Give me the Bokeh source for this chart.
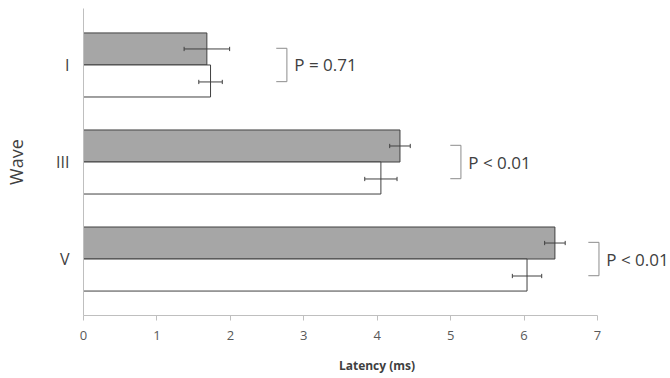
from bokeh.plotting import figure
from bokeh.models import Range1d, FixedTicker
from bokeh.core.properties import value
from bokeh.embed import file_html
from bokeh.resources import INLINE

# ---- data ----
waves = ["I", "III", "V"]
wave_pos = [2, 1, 0]
gray_mean = [1.68, 4.31, 6.42]
gray_err = [0.31, 0.14, 0.14]
white_mean = [1.73, 4.05, 6.04]
white_err = [0.16, 0.22, 0.20]
p_labels = ["P = 0.71", "P < 0.01", "P < 0.01"]
bracket_x = [2.77, 5.14, 7.02]
x_ticks = [0, 1, 2, 3, 4, 5, 6, 7]

FONT = "Open Sans"
TXT = "#404040"
BAR_H = 0.33
OFF = BAR_H / 2

p = figure(width=670, height=378, output_backend="svg", toolbar_location=None,
           x_range=Range1d(0, 7.994), y_range=Range1d(-0.582, 2.582),
           min_border_left=83, min_border_right=0, min_border_top=8, min_border_bottom=63)
p.outline_line_color = None
p.xgrid.visible = False
p.ygrid.visible = False
p.background_fill_color = "white"

# bars
gray_y = [y + OFF for y in wave_pos]
white_y = [y - OFF for y in wave_pos]
p.hbar(y=gray_y, height=BAR_H, left=0, right=gray_mean,
       fill_color="#a6a6a6", line_color="#404040", line_width=1)
p.hbar(y=white_y, height=BAR_H, left=0, right=white_mean,
       fill_color="white", line_color="#404040", line_width=1)

# error bars
CAP = 0.022
def errbars(means, errs, ys):
    lo = [m - e for m, e in zip(means, errs)]
    hi = [m + e for m, e in zip(means, errs)]
    p.segment(x0=lo, x1=hi, y0=ys, y1=ys, line_color="#404040", line_width=1)
    p.segment(x0=lo, x1=lo, y0=[y - CAP for y in ys], y1=[y + CAP for y in ys],
              line_color="#404040", line_width=1)
    p.segment(x0=hi, x1=hi, y0=[y - CAP for y in ys], y1=[y + CAP for y in ys],
              line_color="#404040", line_width=1)

errbars(gray_mean, gray_err, gray_y)
errbars(white_mean, white_err, [y - 0.01 for y in white_y])

# brackets
BW = 0.145
BH = 0.172
xs = [[bx - BW, bx, bx, bx - BW] for bx in bracket_x]
ys = [[y + BH, y + BH, y - BH, y - BH] for y in wave_pos]
p.multi_line(xs=xs, ys=ys, line_color="#8c8c8c", line_width=1)
p.text(x=[bx + 0.1 for bx in bracket_x], y=wave_pos, text=p_labels,
       text_font=value(FONT), text_font_size="17px", text_baseline="middle",
       text_align="left", text_color=TXT)

# axes
xa = p.xaxis[0]
xa.ticker = FixedTicker(ticks=x_ticks)
xa.bounds = (0, 7)
xa.axis_label = "Latency (ms)"
xa.axis_label_text_font = FONT
xa.axis_label_text_font_style = "bold"
xa.axis_label_text_font_size = "12px"
xa.axis_label_text_color = TXT
xa.axis_label_standoff = 14
xa.major_label_text_font = FONT
xa.major_label_text_font_size = "13px"
xa.major_label_text_color = "#595959"
xa.major_label_standoff = 10
xa.axis_line_color = "#bfbfbf"
xa.major_tick_line_color = "#bfbfbf"
xa.major_tick_in = 0
xa.major_tick_out = 5
xa.minor_tick_line_color = None

ya = p.yaxis[0]
ya.ticker = FixedTicker(ticks=wave_pos)
ya.major_label_overrides = {pos: w for pos, w in zip(wave_pos, waves)}
ya.axis_label = "Wave"
ya.axis_label_text_font = FONT
ya.axis_label_text_font_style = "normal"
ya.axis_label_text_font_size = "18px"
ya.axis_label_text_color = TXT
ya.axis_label_standoff = 25
ya.major_label_text_font = FONT
ya.major_label_text_font_size = "16px"
ya.major_label_text_color = TXT
ya.major_label_standoff = 8
ya.axis_line_color = "#bfbfbf"
ya.major_tick_line_color = None
ya.minor_tick_line_color = None

open("out.html", "w").write(file_html(p, INLINE))
